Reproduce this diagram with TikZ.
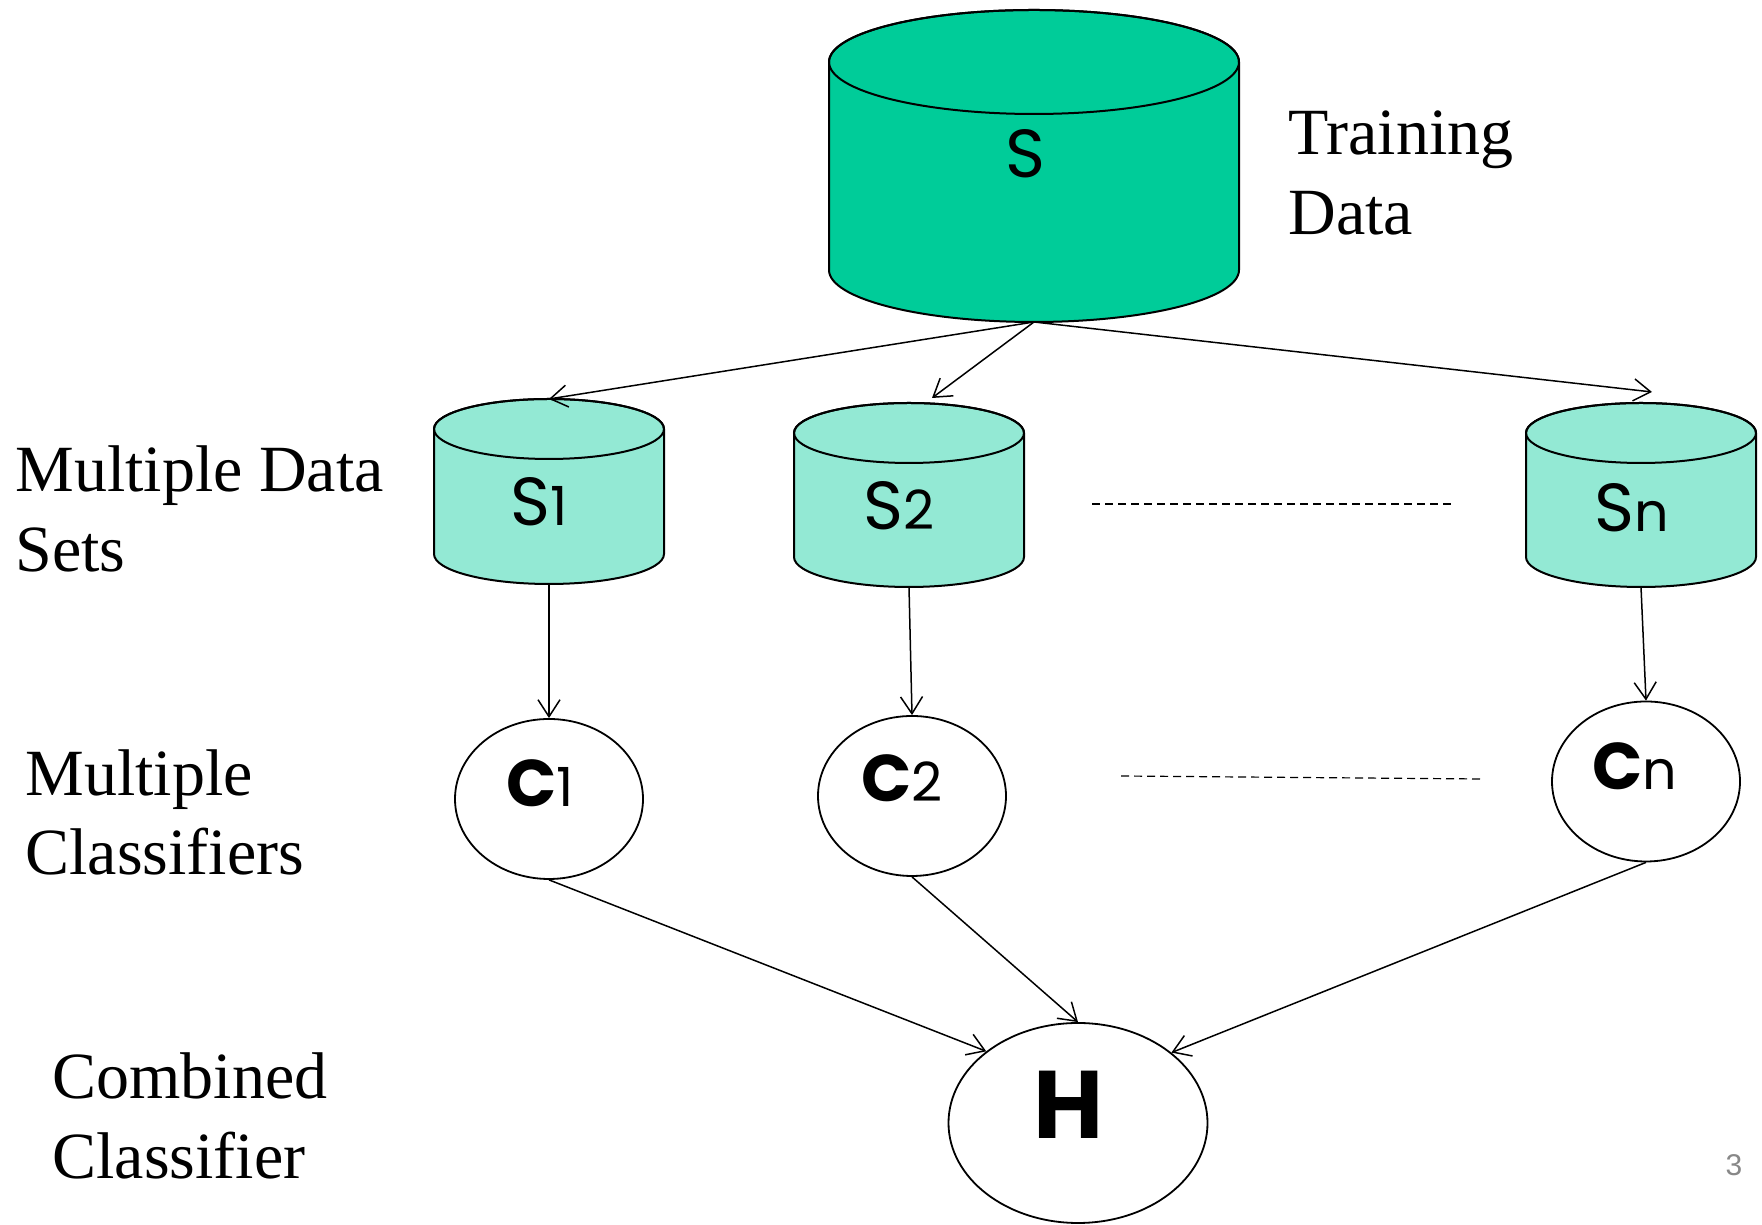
\documentclass[tikz,border=0pt]{standalone}
\usepackage{fontspec}
\setmainfont{Liberation Serif}
\newfontfamily\lblfont{Poppins}
\newfontfamily\pagefont{Liberation Sans}
\usetikzlibrary{shapes.geometric,arrows.meta,calc}
\definecolor{bigteal}{RGB}{0,204,153}
\definecolor{smallteal}{RGB}{147,233,212}
\definecolor{pagegray}{RGB}{136,136,136}
\newcommand{\digsz}[1]{{\fontsize{27}{27}\selectfont #1}}
% #1 name, #2 cx, #3 top ellipse centre Y, #4 bottom ellipse centre Y, #5 rx, #6 ry, #7 fill
\newcommand{\mycyl}[7]{%
  \filldraw[cylline, fill=#7] (#2-#5,#3) -- (#2-#5,#4)
    arc[start angle=180, end angle=360, x radius=#5, y radius=#6]
    -- (#2+#5,#3)
    arc[start angle=0, end angle=180, x radius=#5, y radius=#6] -- cycle;
  \draw[cylline] (#2,#3) ellipse[x radius=#5, y radius=#6];
  \coordinate (#1-top) at (#2,#3+#6);
  \coordinate (#1-bot) at (#2,#4-#6);
}
\begin{document}
\begin{tikzpicture}[x=0.5pt,y=0.5pt,
  cylline/.style={draw=black, line width=1pt},
  arr/.style={line width=0.75pt, -{Straight Barb[length=8.5pt,width=11pt,line width=0.75pt]}},
  dashline/.style={line width=0.6pt, dash pattern=on 4pt off 2.5pt},
  clsf/.style={ellipse, draw, line width=0.9pt, minimum width=94pt, minimum height=80pt, inner sep=0pt},
  comb/.style={ellipse, draw, line width=0.9pt, minimum width=129.5pt, minimum height=100pt, inner sep=0pt},
  lbl/.style={font=\lblfont\fontsize{34}{34}\selectfont, inner sep=0pt},
  blbl/.style={font=\lblfont\bfseries\fontsize{33}{33}\selectfont, inner sep=0pt},
  side/.style={font=\fontsize{33}{40}\selectfont, anchor=base west, inner sep=0pt}
]
\useasboundingbox (0,0) rectangle (1762,1225);

% cylinders
\mycyl{S}{1034}{1163}{955}{205}{52}{bigteal}
\mycyl{S1}{549}{796}{671}{115}{30}{smallteal}
\mycyl{S2}{909}{792}{668}{115}{30}{smallteal}
\mycyl{Sn}{1641}{792}{668}{115}{30}{smallteal}

\node[lbl] (Slbl) at (1025,1071) {S};
\node[lbl] (S1lbl) at (539,723) {S\digsz{1}};
\node[lbl] (S2lbl) at (899,719) {S\digsz{2}};
\node[lbl] (Snlbl) at (1632,717) {S\digsz{n}};

% classifiers
\node[clsf] (C1) at (549,426) {};
\node[clsf] (C2) at (912,429) {};
\node[clsf] (Cn) at (1646,443.5) {};
\node[comb] (H) at (1078,102) {};

\node[blbl] (C1lbl) at (540,442) {C{\mdseries\digsz{1}}};
\node[blbl] (C2lbl) at (902,447) {C{\mdseries\digsz{2}}};
\node[blbl] (Cnlbl) at (1635,459) {C{\mdseries\digsz{n}}};
\node[font=\lblfont\bfseries\fontsize{48}{48}\selectfont, inner sep=0pt] (Hlbl) at (1069,120) {H};

% arrows from training data
\coordinate (S2-in) at ($(S2-top)+(23,5)$);
\coordinate (Sn-in) at ($(Sn-top)+(11,11)$);
\draw[arr] (S-bot) -- (S1-top);
\draw[arr] (S-bot) -- (S2-in);
\draw[arr] (S-bot) -- (Sn-in);

% arrows to classifiers
\draw[arr] (S1-bot) -- (C1.north);
\draw[arr] (S2-bot) -- (C2.north);
\draw[arr] (Sn-bot) -- (Cn.north);

% arrows to combined
\draw[arr] (C1.south) -- (H.142);
\draw[arr] (C2.south) -- (H.north);
\draw[arr] (Cn.south) -- (H.37);

% dashed continuation lines
\coordinate (d1a) at (1092,721);
\coordinate (d1b) at (1453,721);
\coordinate (d2a) at (1121,449);
\coordinate (d2b) at (1481,446);
\draw[dashline] (d1a) -- (d1b);
\draw[dashline] (d2a) -- (d2b);

% side labels
\node[side] (tr1) at (1288,1070) {Training};
\node[side] (tr2) at (1288,990) {Data};
\node[side] (md1) at (15,733) {Multiple Data};
\node[side] (md2) at (15,653) {Sets};
\node[side] (mc1) at (25,429) {Multiple};
\node[side] (mc2) at (25,350) {Classifiers};
\node[side] (cc1) at (52,126) {Combined};
\node[side] (cc2) at (52,46) {Classifier};

\node[font=\pagefont\fontsize{15}{15}\selectfont, text=pagegray, inner sep=0pt] (pg) at (1734,60) {3};
\end{tikzpicture}
\end{document}
